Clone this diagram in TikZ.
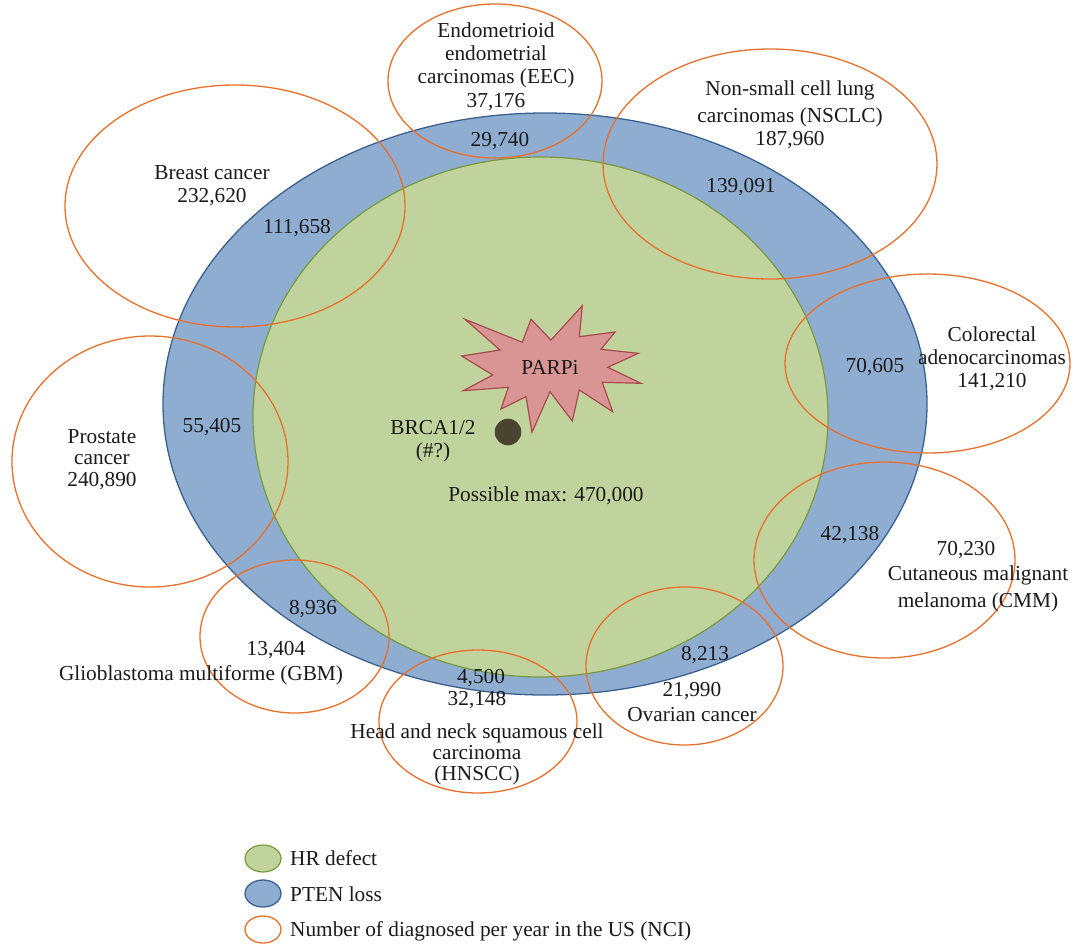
\documentclass[tikz,border=0pt]{standalone}
\usepackage{fontspec}
\setmainfont{Liberation Serif}
\usetikzlibrary{shapes.geometric}
\definecolor{pblue}{HTML}{8FADD1}
\definecolor{pblueline}{HTML}{3B6190}
\definecolor{hgreen}{HTML}{C1D39C}
\definecolor{hgreenline}{HTML}{789A3E}
\definecolor{ncio}{HTML}{E8702A}
\definecolor{starfill}{HTML}{D99594}
\definecolor{starline}{HTML}{A84A4E}
\definecolor{dotc}{HTML}{4A4330}
\definecolor{txt}{HTML}{1A1A1A}
\begin{document}
\begin{tikzpicture}[x=1pt,y=-1pt,
  every node/.style={font=\fontsize{21.3}{23}\selectfont},
  oval/.style={ellipse, draw=ncio, line width=1.3pt, inner sep=0pt},
  ptenset/.style={ellipse, fill=pblue, draw=pblueline, line width=1.3pt, inner sep=0pt},
  hrset/.style={ellipse, fill=hgreen, draw=hgreenline, line width=1.2pt, inner sep=0pt},
  lbl/.style={anchor=base, align=center, inner sep=0pt, text=txt},
]
\useasboundingbox (0,0) rectangle (1076,946);

% sets
\node[ptenset, minimum width=764pt, minimum height=582pt] (pten) at (545,404) {};
\node[hrset, minimum width=575pt, minimum height=520pt] (hr) at (540.5,417) {};

% PARPi star
\draw[fill=starfill, draw=starline, line width=1.2pt]
  (465.0,319.3) -- (522.3,342.3) -- (531.0,319.3) -- (551.0,340.0) --
  (582.3,305.7) -- (579.3,336.7) -- (615.0,332.0) -- (601.0,349.3) --
  (638.3,353.3) -- (607.7,367.3) -- (641.0,383.3) -- (602.3,382.3) --
  (612.7,411.7) -- (579.3,390.0) -- (572.3,421.0) -- (550.0,391.7) --
  (532.0,432.3) -- (526.0,396.7) -- (501.0,409.0) -- (508.3,387.3) --
  (463.3,390.7) -- (492.7,375.0) -- (461.7,356.0) -- (500.0,350.0) -- cycle;
\node[lbl] (parpi) at (550,374) {PARPi};
\node[circle, fill=dotc, minimum size=26.6pt, inner sep=0pt] (brcadot) at (508,432) {};

% cancer ovals
\node[oval, minimum width=214pt, minimum height=154pt] (eec) at (495,81) {};
\node[oval, minimum width=340pt, minimum height=242pt] (breast) at (235,206) {};
\node[oval, minimum width=334pt, minimum height=230pt] (nsclc) at (770,164) {};
\node[oval, minimum width=285pt, minimum height=179pt] (crc) at (927.5,363.5) {};
\node[oval, minimum width=276pt, minimum height=251pt] (prostate) at (150,461.5) {};
\node[oval, minimum width=261pt, minimum height=196pt] (cmm) at (884.5,560) {};
\node[oval, minimum width=189pt, minimum height=153pt] (gbm) at (294.5,636.5) {};
\node[oval, minimum width=198pt, minimum height=143pt] (hnscc) at (478,721.5) {};
\node[oval, minimum width=197pt, minimum height=158pt] (ovarian) at (684.5,666) {};

% labels (multi-line nodes: base = last line's baseline)
\node[lbl] (eect) at (496,107) {Endometrioid\\endometrial\\carcinomas (EEC)\\[1pt]37,176};
\node[lbl] (eecn) at (500,146) {29,740};
\node[lbl] (breastt) at (212,202) {Breast cancer\\232,620};
\node[lbl] (breastn) at (297,233) {111,658};
\node[lbl] (nsclct) at (790,145) {Non-small cell lung\\[4pt]carcinomas (NSCLC)\\187,960};
\node[lbl] (nsclcn) at (741,192) {139,091};
\node[lbl] (prostatet) at (102,486) {Prostate\\[-2pt]cancer\\[-1pt]240,890};
\node[lbl] (prostaten) at (212,432) {55,405};
\node[lbl] (crct) at (992,387) {Colorectal\\adenocarcinomas\\141,210};
\node[lbl] (crcn) at (875,372) {70,605};
\node[lbl] (cmmt1) at (966,555) {70,230};
\node[lbl] (cmmt) at (978,607) {Cutaneous malignant\\[4pt]melanoma (CMM)};
\node[lbl] (cmmn) at (850,540) {42,138};
\node[lbl] (gbmn) at (313,614) {8,936};
\node[lbl] (gbmt1) at (276,655) {13,404};
\node[lbl] (gbmt) at (201,680) {Glioblastoma multiforme (GBM)};
\node[lbl] (hnsccn) at (481,683) {4,500};
\node[lbl] (hnscct1) at (477,705) {32,148};
\node[lbl] (hnscct) at (477,780) {Head and neck squamous cell\\[-2pt]carcinoma\\[-2pt](HNSCC)};
\node[lbl] (ovn) at (705,660) {8,213};
\node[lbl] (ovt) at (692,721) {21,990\\[2pt]Ovarian cancer};
\node[lbl] (brca) at (433,457) {BRCA1/2\\(\#?)};
\node[lbl] (maxt) at (546,501) {Possible max: 470,000};

% legend
\node[hrset, minimum width=36pt, minimum height=27pt] (lg1) at (263,858.5) {};
\node[ptenset, minimum width=36pt, minimum height=27pt] (lg2) at (263,893.5) {};
\node[oval, minimum width=36pt, minimum height=27pt] (lg3) at (263,929.5) {};
\node[lbl, anchor=base west] (lt1) at (290,865) {HR defect};
\node[lbl, anchor=base west] (lt2) at (290,901) {PTEN loss};
\node[lbl, anchor=base west] (lt3) at (290,936) {Number of diagnosed per year in the US (NCI)};
\end{tikzpicture}
\end{document}
